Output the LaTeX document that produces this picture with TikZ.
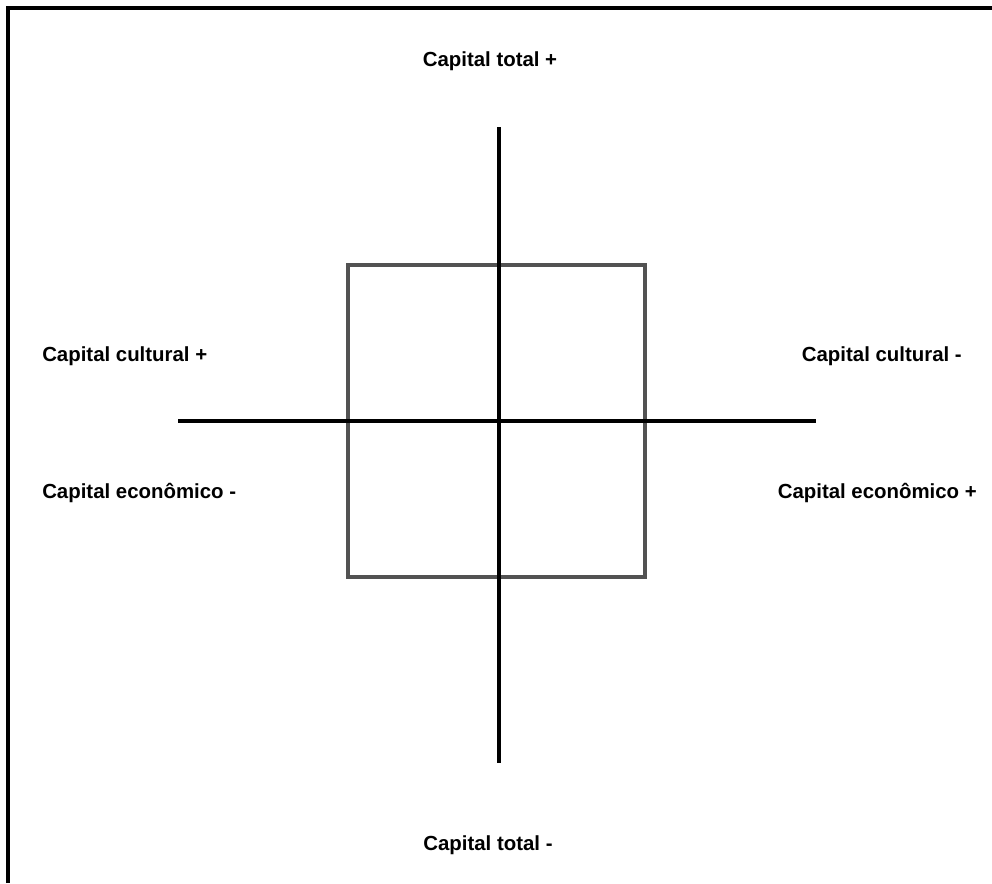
\documentclass[tikz,border=0pt]{standalone}
\usepackage{fontspec}
\setmainfont{Liberation Sans}
\tikzset{
  axis/.style={line width=3.2pt},
  quad/.style={line width=2.8pt, draw=black!68},
  lbl/.style={font=\fontsize{15.3}{18}\selectfont\bfseries, inner sep=0pt}
}
\begin{document}
\begin{tikzpicture}[x=0.75pt,y=-0.75pt]
\useasboundingbox (0,0) rectangle (992,883);
\draw[line width=3pt] (8,883) -- (8,8) -- (992,8);
\coordinate (top) at (499,127);
\coordinate (bot) at (499,763);
\coordinate (lft) at (178,421);
\coordinate (rgt) at (816,421);
\draw[quad] (348,265) rectangle (645,577);
\draw[axis] (top) -- (bot);
\draw[axis] (lft) -- (rgt);
\node[lbl] (totp) at (490,61) {Capital total +};
\node[lbl] (totm) at (488,845) {Capital total -};
\node[lbl, anchor=west] (culp) at (42,356) {Capital cultural +};
\node[lbl, anchor=west] (ecom) at (42,493) {Capital econômico -};
\node[lbl, anchor=east] (culm) at (962,356) {Capital cultural -};
\node[lbl, anchor=east] (ecop) at (977,493) {Capital econômico +};
\end{tikzpicture}
\end{document}
